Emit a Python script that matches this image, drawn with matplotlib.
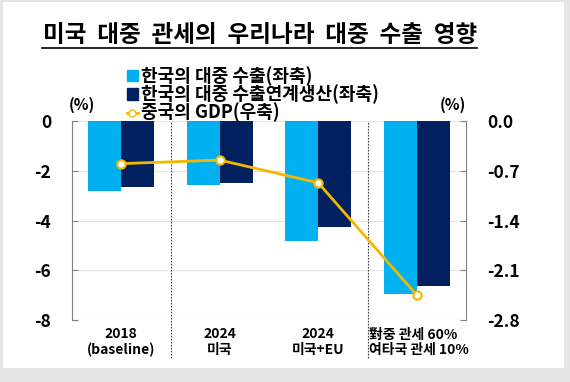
import matplotlib
matplotlib.use("Agg")
import matplotlib.pyplot as plt
from matplotlib.lines import Line2D
from matplotlib.patches import Patch, Rectangle

plt.rcParams['font.family'] = ['Noto Sans CJK KR', 'DejaVu Sans']

# ---------------------- 데이터 ----------------------
categories = ['2018\n(baseline)', '2024\n미국', '2024\n미국+EU', '對중 관세 60%\n여타국 관세 10%']
export_china = [-2.8, -2.57, -4.82, -6.95]        # 한국의 대중 수출(좌축)
export_linked = [-2.65, -2.5, -4.26, -6.63]       # 한국의 대중 수출연계생산(좌축)
china_gdp = [-0.6, -0.55, -0.87, -2.45]           # 중국의 GDP(우축)
left_ticks = [0, -2, -4, -6, -8]
right_ticks = [0.0, -0.7, -1.4, -2.1, -2.8]

c_light = '#00B0F0'
c_dark = '#002060'
c_gold = '#F5B800'

fig = plt.figure(figsize=(5.7, 3.82), dpi=100)
fig.patch.set_facecolor('#e6e6e6')
fig.patches.append(Rectangle((3 / 570, 14 / 382), 561 / 570, 366 / 382,
                             transform=fig.transFigure, facecolor='white',
                             edgecolor='none', zorder=-5))

ax = fig.add_axes([72 / 570, 1 - 320 / 382, 394 / 570, 199 / 382])
ax.set_facecolor('none')
x = list(range(len(categories)))
w = 0.335
ax.bar([i - w / 2 for i in x], export_china, width=w, color=c_light, zorder=2)
ax.bar([i + w / 2 for i in x], export_linked, width=w, color=c_dark, zorder=2)
ax.set_xlim(-0.5, 3.5)
ax.set_ylim(-8, 0)
ax.set_yticks(left_ticks)
ax.set_yticklabels([str(t) for t in left_ticks], fontsize=12.5, fontweight='bold')
ax.tick_params(axis='y', direction='in', length=4, color='#808080', pad=15)
ax.set_xticks([])
for t in left_ticks:
    ax.axhline(t, color='#e4e4e4', lw=0.8, zorder=1)
for s in ['top', 'bottom', 'right']:
    ax.spines[s].set_visible(False)
ax.spines['left'].set_color('#808080')

# 구분선
for xv in [0.5, 2.5]:
    ax.axvline(xv, ymin=-0.19, ymax=1.0, color='#404040', lw=0.8,
               linestyle=(0, (1.5, 1.2)), clip_on=False, zorder=3)

# x 라벨
for i, lab in enumerate(categories[:3]):
    ax.text(i, -8.3, lab, ha='center', va='top', fontsize=10,
            fontweight='bold', linespacing=1.12)
ax.text(2.52, -8.3, categories[3], ha='left', va='top', fontsize=10,
        fontweight='bold', linespacing=1.12)

ax2 = ax.twinx()
ax2.plot(x, china_gdp, color=c_gold, lw=2, marker='o', ms=6,
         mfc='white', mec=c_gold, mew=1.5, zorder=4)
ax2.set_ylim(-2.8, 0)
ax2.set_yticks(right_ticks)
ax2.set_yticklabels([f'{t:.1f}' for t in right_ticks], fontsize=12.5, fontweight='bold')
ax2.tick_params(axis='y', direction='in', length=4, color='#808080', pad=15)
for s in ['top', 'bottom', 'left']:
    ax2.spines[s].set_visible(False)
ax2.spines['right'].set_color('#808080')

# 단위
fig.text(82 / 570, 1 - 105 / 382, '(%)', ha='center', va='center',
         fontsize=11, fontweight='bold')
fig.text(453 / 570, 1 - 105 / 382, '(%)', ha='center', va='center',
         fontsize=11, fontweight='bold')

# 제목
fig.text(260 / 570, 1 - 35 / 382, '미국  대중  관세의  우리나라  대중  수출  영향',
         ha='center', va='center', fontsize=17, fontweight='bold')
fig.add_artist(Line2D([42 / 570, 477 / 570], [1 - 48 / 382, 1 - 48 / 382],
                      color='black', lw=1.2, transform=fig.transFigure))

# 범례
handles = [Patch(color=c_light), Patch(color=c_dark),
           Line2D([], [], color=c_gold, lw=2, marker='o', ms=5,
                  mfc='white', mec=c_gold)]
labels = ['한국의 대중 수출(좌축)', '한국의 대중 수출연계생산(좌축)', '중국의 GDP(우축)']
leg = fig.legend(handles, labels, loc='upper left',
                 bbox_to_anchor=(118 / 570, 1 - 57 / 382), frameon=False,
                 fontsize=13, handlelength=0.6, handleheight=0.6,
                 handletextpad=0.2, labelspacing=-0.08, borderpad=0)
for t in leg.get_texts():
    t.set_fontweight('bold')

fig.savefig('out.png', dpi=100, facecolor=fig.get_facecolor())
